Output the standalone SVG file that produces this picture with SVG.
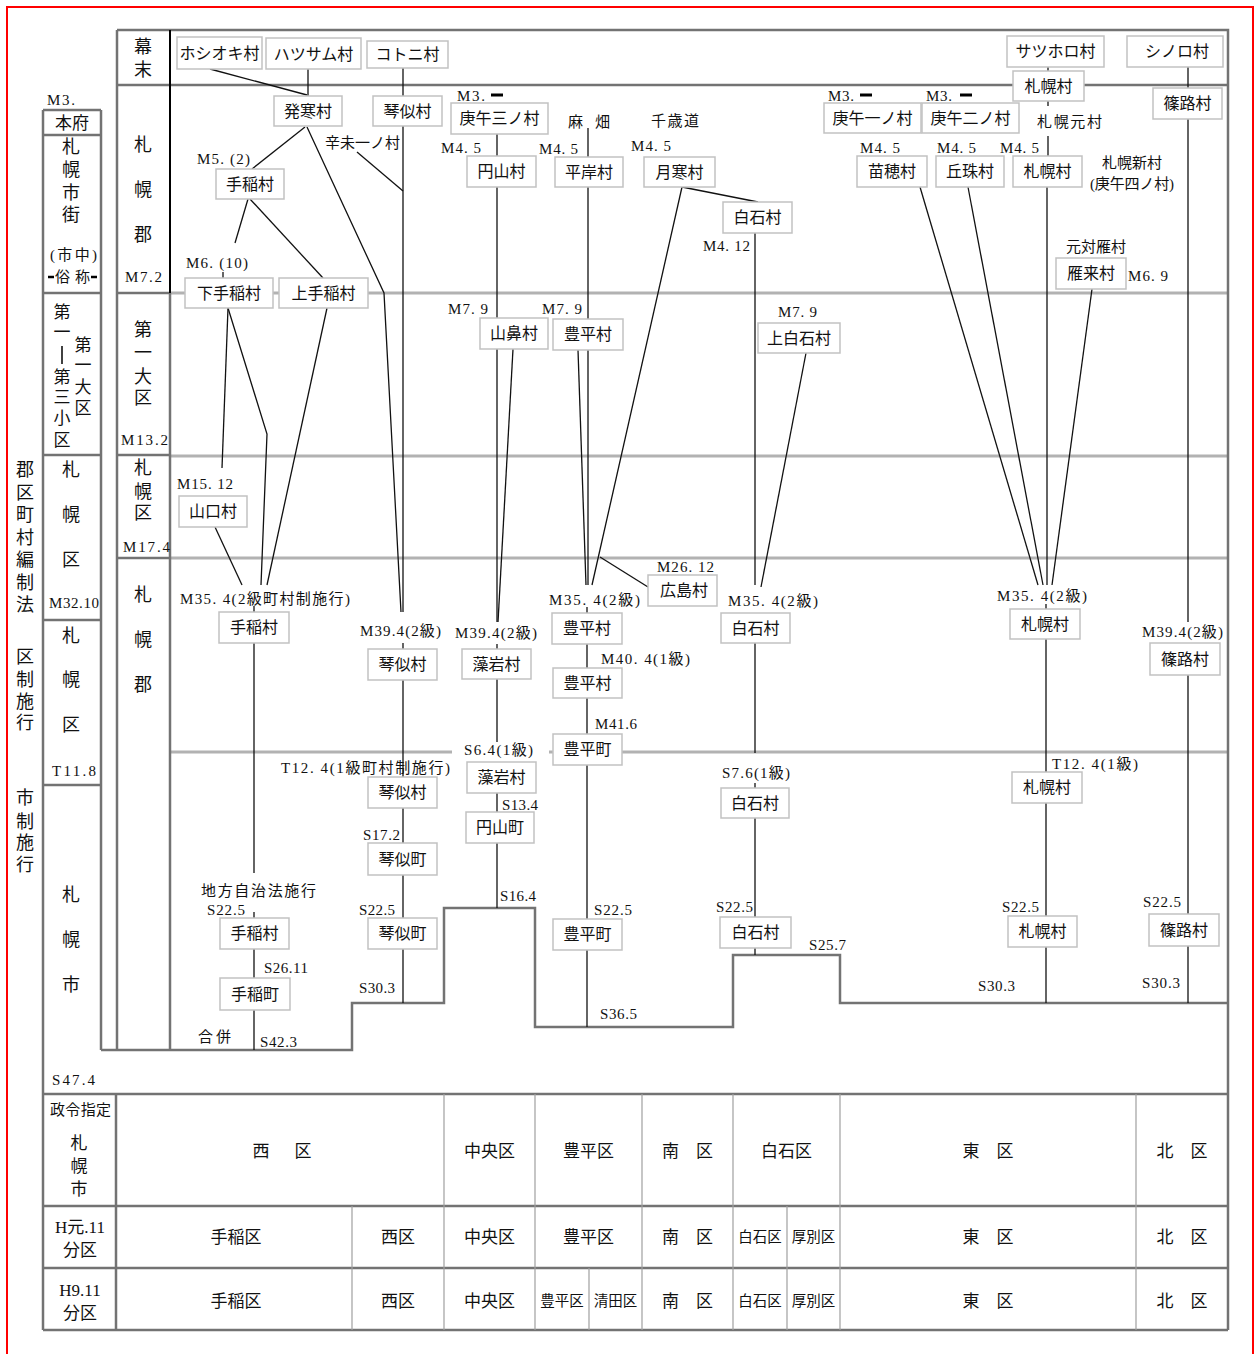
<svg xmlns="http://www.w3.org/2000/svg" width="1256" height="1354" viewBox="0 0 1256 1354">
<style>
text{font-family:"Liberation Serif","Noto Sans CJK JP",serif;fill:#111}
.f{stroke:#737373;stroke-width:2.5;fill:none}
.g{stroke:#b2b2b2;stroke-width:3;fill:none}
.t{stroke:#a0a0a0;stroke-width:1.2;fill:none}
.node rect{fill:#fff;stroke:#c2c2c2;stroke-width:1.5}
.node text{font-size:16px;text-anchor:middle;dominant-baseline:central}
#connectors line,#connectors polyline{stroke:#111;stroke-width:1.3;fill:none}
.l{font-size:15px;dominant-baseline:central}
.v{font-size:18px;text-anchor:middle;dominant-baseline:central}
.vs{font-size:17px;text-anchor:middle;dominant-baseline:central}
.c{font-size:17px;text-anchor:middle;dominant-baseline:central}
.cs{font-size:14.5px;text-anchor:middle;dominant-baseline:central}
.d{stroke:#000;stroke-width:3}
</style>
<rect width="1256" height="1354" fill="#fff"/>
<path d="M7 1354 V7 H1253 V1354" stroke="#f00" stroke-width="2" fill="none"/>

<g id="grid">
<path class="g" d="M170 293 H1228 M170 456 H1228 M170 558 H1228 M170 752 H452 M549 752 H1228"/>
<path class="f" d="M117 30 H1228 V1330 M117 85 H1228 M117 30 V1050 M170 293 V1050 M117 293 H170 M117 455 H170 M117 558 H170"/>
<line x1="170" y1="30" x2="170" y2="293" stroke="#000" stroke-width="2"/>
<path class="f" d="M43 110 V1330 M101 110 V1050 M43 110 H101 M43 135 H101 M43 293 H101 M43 455 H101 M43 620 H101 M43 785 H101"/>
<polyline class="f" points="101,1050 352,1050 352,1003 444,1003 444,908 535,908 535,1027 733,1027 733,955 840,955 840,1003 1228,1003"/>
<path class="f" d="M43 1094 H1228 M43 1206 H1228 M43 1268 H1228 M43 1330 H1228 M116 1094 V1330"/>
<path class="t" d="M444 1094 V1330 M535 1094 V1330 M642 1094 V1330 M733 1094 V1330 M840 1094 V1330 M1136 1094 V1330 M352 1206 V1330 M787 1206 V1330 M589 1268 V1330"/>
</g>

<g id="connectors">
<line x1="210" y1="69" x2="307" y2="95"/>
<line x1="308" y1="69" x2="308" y2="96"/>
<line x1="403" y1="68" x2="403" y2="96"/>
<line x1="305" y1="127" x2="252" y2="169"/>
<polyline points="307,127 384,293 401,612"/>
<line x1="357" y1="152" x2="403" y2="191"/>
<line x1="403" y1="126" x2="403" y2="612"/>
<line x1="248" y1="199" x2="235" y2="243"/>
<line x1="223" y1="272" x2="223" y2="278"/>
<line x1="250" y1="199" x2="323" y2="278"/>
<line x1="228" y1="308" x2="222" y2="468"/>
<polyline points="228,308 267,434 261,585"/>
<line x1="327" y1="308" x2="267" y2="585"/>
<line x1="215" y1="527" x2="242" y2="585"/>
<line x1="254" y1="606" x2="254" y2="612"/>
<line x1="254" y1="643" x2="254" y2="873"/>
<line x1="254" y1="912" x2="254" y2="918"/>
<line x1="254" y1="949" x2="254" y2="978"/>
<line x1="254" y1="1010" x2="254" y2="1050"/>
<line x1="403" y1="643" x2="403" y2="649"/>
<line x1="403" y1="680" x2="403" y2="777"/>
<line x1="403" y1="808" x2="403" y2="843"/>
<line x1="403" y1="875" x2="403" y2="918"/>
<line x1="403" y1="949" x2="403" y2="1003"/>
<line x1="497" y1="134" x2="497" y2="156"/>
<line x1="497" y1="187" x2="497" y2="622"/>
<line x1="513" y1="349" x2="498" y2="622"/>
<line x1="497" y1="644" x2="497" y2="649"/>
<line x1="497" y1="679" x2="497" y2="742"/>
<line x1="497" y1="793" x2="497" y2="812"/>
<line x1="497" y1="843" x2="497" y2="908"/>
<line x1="588" y1="128" x2="588" y2="157"/>
<line x1="588" y1="187" x2="588" y2="585"/>
<line x1="578" y1="350" x2="586" y2="585"/>
<line x1="682" y1="187" x2="592" y2="585"/>
<line x1="600" y1="557" x2="648" y2="587"/>
<line x1="587" y1="607" x2="587" y2="613"/>
<line x1="587" y1="644" x2="587" y2="668"/>
<line x1="587" y1="698" x2="587" y2="734"/>
<line x1="587" y1="765" x2="587" y2="919"/>
<line x1="587" y1="950" x2="587" y2="1027"/>
<line x1="682" y1="187" x2="758" y2="202"/>
<line x1="755" y1="233" x2="755" y2="585"/>
<line x1="806" y1="353" x2="761" y2="587"/>
<line x1="755" y1="643" x2="755" y2="753"/>
<line x1="755" y1="783" x2="755" y2="788"/>
<line x1="755" y1="818" x2="755" y2="917"/>
<line x1="755" y1="948" x2="755" y2="955"/>
<line x1="1048" y1="67" x2="1048" y2="71"/>
<line x1="1048" y1="101" x2="1048" y2="106"/>
<line x1="1048" y1="136" x2="1048" y2="156"/>
<line x1="1047" y1="187" x2="1047" y2="585"/>
<line x1="920" y1="187" x2="1038" y2="585"/>
<line x1="968" y1="187" x2="1043" y2="585"/>
<line x1="1092" y1="289" x2="1052" y2="585"/>
<line x1="1046" y1="604" x2="1046" y2="609"/>
<line x1="1046" y1="639" x2="1046" y2="772"/>
<line x1="1046" y1="803" x2="1046" y2="916"/>
<line x1="1046" y1="947" x2="1046" y2="1003"/>
<line x1="1188" y1="67" x2="1188" y2="88"/>
<line x1="1188" y1="119" x2="1188" y2="622"/>
<line x1="1188" y1="675" x2="1188" y2="914"/>
<line x1="1188" y1="946" x2="1188" y2="1003"/>
</g>

<g id="n-hoshioki" class="node"><rect x="177" y="37" width="85" height="32"/><text x="219.5" y="53">ホシオキ村</text></g>
<g id="n-hatsusamu" class="node"><rect x="266" y="38" width="95" height="31"/><text x="313.5" y="54">ハツサム村</text></g>
<g id="n-kotoni" class="node"><rect x="367" y="41" width="81" height="27"/><text x="407.5" y="54.5">コトニ村</text></g>
<g id="n-hassamu" class="node"><rect x="274" y="96" width="68" height="30"/><text x="308" y="111">発寒村</text></g>
<g id="n-kotoni1" class="node"><rect x="373" y="96" width="69" height="30"/><text x="407.5" y="111">琴似村</text></g>
<g id="n-teine1" class="node"><rect x="216" y="169" width="68" height="30"/><text x="250" y="184">手稲村</text></g>
<g id="n-shimoteine" class="node"><rect x="185" y="278" width="88" height="30"/><text x="229" y="293">下手稲村</text></g>
<g id="n-kamiteine" class="node"><rect x="279" y="278" width="89" height="30"/><text x="323.5" y="293">上手稲村</text></g>
<g id="n-yamaguchi" class="node"><rect x="179" y="496" width="68" height="31"/><text x="213" y="511.5">山口村</text></g>
<g id="n-teine2" class="node"><rect x="219" y="612" width="70" height="31"/><text x="254" y="627.5">手稲村</text></g>
<g id="n-teine3" class="node"><rect x="220" y="918" width="69" height="31"/><text x="254.5" y="933.5">手稲村</text></g>
<g id="n-teinecho" class="node"><rect x="220" y="978" width="70" height="32"/><text x="255" y="994">手稲町</text></g>
<g id="n-kotoni2" class="node"><rect x="368" y="649" width="69" height="31"/><text x="402.5" y="664.5">琴似村</text></g>
<g id="n-kotoni3" class="node"><rect x="368" y="777" width="69" height="31"/><text x="402.5" y="792.5">琴似村</text></g>
<g id="n-kotonicho1" class="node"><rect x="368" y="843" width="69" height="32"/><text x="402.5" y="859">琴似町</text></g>
<g id="n-kotonicho2" class="node"><rect x="368" y="918" width="69" height="31"/><text x="402.5" y="933.5">琴似町</text></g>
<g id="n-kogo3" class="node"><rect x="451" y="103" width="97" height="31"/><text x="499.5" y="118.5">庚午三ノ村</text></g>
<g id="n-maruyama" class="node"><rect x="467" y="156" width="69" height="31"/><text x="501.5" y="171.5">円山村</text></g>
<g id="n-yamahana" class="node"><rect x="480" y="318" width="68" height="31"/><text x="514" y="333.5">山鼻村</text></g>
<g id="n-moiwa1" class="node"><rect x="462" y="649" width="69" height="30"/><text x="496.5" y="664">藻岩村</text></g>
<g id="n-moiwa2" class="node"><rect x="467" y="762" width="69" height="31"/><text x="501.5" y="777.5">藻岩村</text></g>
<g id="n-maruyamacho" class="node"><rect x="466" y="812" width="68" height="31"/><text x="500" y="827.5">円山町</text></g>
<g id="n-hiragishi" class="node"><rect x="555" y="157" width="68" height="30"/><text x="589" y="172">平岸村</text></g>
<g id="n-toyohira1" class="node"><rect x="553" y="319" width="70" height="31"/><text x="588" y="334.5">豊平村</text></g>
<g id="n-toyohira2" class="node"><rect x="552" y="613" width="70" height="31"/><text x="587" y="628.5">豊平村</text></g>
<g id="n-toyohira3" class="node"><rect x="553" y="668" width="69" height="30"/><text x="587.5" y="683">豊平村</text></g>
<g id="n-toyohiracho1" class="node"><rect x="553" y="734" width="69" height="31"/><text x="587.5" y="749.5">豊平町</text></g>
<g id="n-toyohiracho2" class="node"><rect x="553" y="919" width="69" height="31"/><text x="587.5" y="934.5">豊平町</text></g>
<g id="n-tsukisamu" class="node"><rect x="644" y="157" width="71" height="30"/><text x="679.5" y="172">月寒村</text></g>
<g id="n-shiroishi1" class="node"><rect x="723" y="202" width="69" height="31"/><text x="757.5" y="217.5">白石村</text></g>
<g id="n-kamishiroishi" class="node"><rect x="758" y="323" width="82" height="30"/><text x="799" y="338">上白石村</text></g>
<g id="n-hiroshima" class="node"><rect x="648" y="575" width="69" height="31"/><text x="684" y="590.5">広島村</text></g>
<g id="n-shiroishi2" class="node"><rect x="721" y="613" width="69" height="30"/><text x="755.5" y="628">白石村</text></g>
<g id="n-shiroishi3" class="node"><rect x="721" y="788" width="68" height="30"/><text x="755" y="803">白石村</text></g>
<g id="n-shiroishi4" class="node"><rect x="720" y="917" width="71" height="31"/><text x="755.5" y="932.5">白石村</text></g>
<g id="n-satsuhoro" class="node"><rect x="1007" y="36" width="97" height="31"/><text x="1055.5" y="51.5">サツホロ村</text></g>
<g id="n-shinoro" class="node"><rect x="1127" y="36" width="96" height="31"/><text x="1177" y="51.5">シノロ村</text></g>
<g id="n-sapporo1" class="node"><rect x="1013" y="71" width="71" height="30"/><text x="1048.5" y="86">札幌村</text></g>
<g id="n-shinoro1" class="node"><rect x="1153" y="88" width="69" height="31"/><text x="1187.5" y="103.5">篠路村</text></g>
<g id="n-kogo1" class="node"><rect x="824" y="103" width="97" height="30"/><text x="872.5" y="118">庚午一ノ村</text></g>
<g id="n-kogo2" class="node"><rect x="922" y="103" width="97" height="30"/><text x="970.5" y="118">庚午二ノ村</text></g>
<g id="n-naebo" class="node"><rect x="857" y="156" width="70" height="31"/><text x="892" y="171.5">苗穂村</text></g>
<g id="n-okadama" class="node"><rect x="936" y="156" width="68" height="31"/><text x="970" y="171.5">丘珠村</text></g>
<g id="n-sapporo2" class="node"><rect x="1013" y="156" width="69" height="31"/><text x="1047.5" y="171.5">札幌村</text></g>
<g id="n-kariki" class="node"><rect x="1056" y="258" width="70" height="31"/><text x="1091" y="273.5">雁来村</text></g>
<g id="n-sapporo3" class="node"><rect x="1010" y="609" width="70" height="30"/><text x="1045" y="624">札幌村</text></g>
<g id="n-sapporo4" class="node"><rect x="1012" y="772" width="70" height="31"/><text x="1047" y="787.5">札幌村</text></g>
<g id="n-sapporo5" class="node"><rect x="1008" y="916" width="69" height="31"/><text x="1042.5" y="931.5">札幌村</text></g>
<g id="n-shinoro2" class="node"><rect x="1150" y="643" width="70" height="32"/><text x="1185" y="659">篠路村</text></g>
<g id="n-shinoro3" class="node"><rect x="1149" y="914" width="70" height="32"/><text x="1184" y="930">篠路村</text></g>

<g id="labels">
<text class="l" x="47" y="100" textLength="28">M3.</text>
<text class="l" x="197" y="159" textLength="53">M5. (2)</text>
<text class="l" x="186" y="263" textLength="62">M6. (10)</text>
<text class="l" x="325" y="143" textLength="75">辛未一ノ村</text>
<text class="l" x="177" y="484" textLength="56">M15. 12</text>
<text class="l" x="180" y="599" textLength="170">M35. 4(2級町村制施行)</text>
<text class="l" x="360" y="631" textLength="81">M39.4(2級)</text>
<text class="l" x="281" y="768" textLength="169">T12. 4(1級町村制施行)</text>
<text class="l" x="363" y="835" textLength="37">S17.2</text>
<text class="l" x="201" y="891" textLength="115">地方自治法施行</text>
<text class="l" x="207" y="910" textLength="38">S22.5</text>
<text class="l" x="359" y="910" textLength="36">S22.5</text>
<text class="l" x="264" y="968" textLength="44">S26.11</text>
<text class="l" x="359" y="988" textLength="36">S30.3</text>
<text class="l" x="198" y="1037" textLength="33">合併</text>
<text class="l" x="260" y="1042" textLength="37">S42.3</text>
<text class="l" x="52" y="1080" textLength="43">S47.4</text>

<text class="l" x="457" y="96" textLength="28">M3.</text>
<line class="d" x1="491" y1="95" x2="503" y2="95"/>
<text class="l" x="441" y="148" textLength="40">M4. 5</text>
<text class="l" x="568" y="122" textLength="42">麻　畑</text>
<text class="l" x="539" y="149" textLength="39">M4. 5</text>
<text class="l" x="651" y="121" textLength="48">千歳道</text>
<text class="l" x="631" y="146" textLength="40">M4. 5</text>
<text class="l" x="703" y="246" textLength="47">M4. 12</text>
<text class="l" x="448" y="309" textLength="40">M7. 9</text>
<text class="l" x="542" y="309" textLength="40">M7. 9</text>
<text class="l" x="778" y="312" textLength="39">M7. 9</text>
<text class="l" x="657" y="567" textLength="57">M26. 12</text>
<text class="l" x="549" y="600" textLength="91">M35. 4(2級)</text>
<text class="l" x="728" y="601" textLength="90">M35. 4(2級)</text>
<text class="l" x="455" y="633" textLength="82">M39.4(2級)</text>
<text class="l" x="601" y="659" textLength="89">M40. 4(1級)</text>
<text class="l" x="595" y="724" textLength="42">M41.6</text>
<text class="l" x="464" y="750" textLength="69">S6.4(1級)</text>
<text class="l" x="722" y="773" textLength="68">S7.6(1級)</text>
<text class="l" x="502" y="805" textLength="36">S13.4</text>
<text class="l" x="500" y="896" textLength="36">S16.4</text>
<text class="l" x="594" y="910" textLength="38">S22.5</text>
<text class="l" x="600" y="1014" textLength="37">S36.5</text>
<text class="l" x="716" y="907" textLength="37">S22.5</text>
<text class="l" x="809" y="945" textLength="37">S25.7</text>

<text class="l" x="828" y="96" textLength="26">M3.</text>
<line class="d" x1="860" y1="95" x2="872" y2="95"/>
<text class="l" x="926" y="96" textLength="26">M3.</text>
<line class="d" x1="960" y1="95" x2="972" y2="95"/>
<text class="l" x="1037" y="122" textLength="65">札幌元村</text>
<text class="l" x="860" y="148" textLength="40">M4. 5</text>
<text class="l" x="937" y="148" textLength="39">M4. 5</text>
<text class="l" x="1000" y="148" textLength="39">M4. 5</text>
<text class="l" x="1102" y="163" textLength="60">札幌新村</text>
<text class="l" x="1090" y="184" textLength="84">(庚午四ノ村)</text>
<text class="l" x="1066" y="247" textLength="60">元対雁村</text>
<text class="l" x="1128" y="276" textLength="40">M6. 9</text>
<text class="l" x="997" y="596" textLength="90">M35. 4(2級)</text>
<text class="l" x="1142" y="632" textLength="81">M39.4(2級)</text>
<text class="l" x="1052" y="764" textLength="86">T12. 4(1級)</text>
<text class="l" x="1002" y="907" textLength="37">S22.5</text>
<text class="l" x="978" y="986" textLength="37">S30.3</text>
<text class="l" x="1143" y="902" textLength="38">S22.5</text>
<text class="l" x="1142" y="983" textLength="38">S30.3</text>
</g>

<g id="side-labels">
<text class="v" x="25" y="470">郡</text><text class="v" x="25" y="493">区</text><text class="v" x="25" y="515">町</text><text class="v" x="25" y="538">村</text><text class="v" x="25" y="560">編</text><text class="v" x="25" y="583">制</text><text class="v" x="25" y="605">法</text>
<text class="v" x="25" y="657">区</text><text class="v" x="25" y="680">制</text><text class="v" x="25" y="702">施</text><text class="v" x="25" y="723">行</text>
<text class="v" x="25" y="798">市</text><text class="v" x="25" y="822">制</text><text class="v" x="25" y="843">施</text><text class="v" x="25" y="865">行</text>

<text class="c" x="72" y="123">本府</text>
<text class="v" x="71" y="147">札</text><text class="v" x="71" y="170">幌</text><text class="v" x="71" y="193">市</text><text class="v" x="71" y="215">街</text>
<text class="l" x="50" y="255" textLength="47">(市中)</text>
<line x1="48" y1="277" x2="54" y2="277" stroke="#000" stroke-width="2.5"/>
<text class="l" x="55" y="277" textLength="35">俗称</text>
<line x1="91" y1="277" x2="97" y2="277" stroke="#000" stroke-width="2.5"/>
<text class="vs" x="62" y="312">第</text><text class="vs" x="62" y="332">一</text>
<line x1="62" y1="346" x2="62" y2="364" stroke="#111" stroke-width="1.6"/>
<text class="vs" x="62" y="377">第</text><text class="vs" x="62" y="397">三</text><text class="vs" x="62" y="418">小</text><text class="vs" x="62" y="440">区</text>
<text class="vs" x="83" y="345">第</text><text class="vs" x="83" y="365">一</text><text class="vs" x="83" y="387">大</text><text class="vs" x="83" y="408">区</text>
<text class="v" x="71" y="470">札</text><text class="v" x="71" y="515">幌</text><text class="v" x="71" y="560">区</text>
<text class="l" x="49" y="603" font-size="14" textLength="50">M32.10</text>
<text class="v" x="71" y="636">札</text><text class="v" x="71" y="680">幌</text><text class="v" x="71" y="725">区</text>
<text class="l" x="52" y="771" textLength="44">T11.8</text>
<text class="v" x="71" y="895">札</text><text class="v" x="71" y="940">幌</text><text class="v" x="71" y="985">市</text>

<text class="v" x="143" y="47">幕</text><text class="v" x="143" y="70">末</text>
<text class="v" x="143" y="145">札</text><text class="v" x="143" y="190">幌</text><text class="v" x="143" y="235">郡</text>
<text class="l" x="125" y="277" textLength="37">M7.2</text>
<text class="v" x="143" y="330">第</text><text class="v" x="143" y="353">一</text><text class="v" x="143" y="377">大</text><text class="v" x="143" y="398">区</text>
<text class="l" x="121" y="440" textLength="47">M13.2</text>
<text class="v" x="143" y="468">札</text><text class="v" x="143" y="492">幌</text><text class="v" x="143" y="513">区</text>
<text class="l" x="123" y="547" textLength="47">M17.4</text>
<text class="v" x="143" y="595">札</text><text class="v" x="143" y="640">幌</text><text class="v" x="143" y="685">郡</text>
</g>

<g id="ward-table">
<text class="l" x="50" y="1110" font-size="14" textLength="61">政令指定</text>
<text class="c" x="79" y="1143">札</text><text class="c" x="79" y="1166">幌</text><text class="c" x="79" y="1189">市</text>
<text class="c" x="80" y="1227">H元.11</text><text class="c" x="80" y="1250">分区</text>
<text class="c" x="80" y="1290">H9.11</text><text class="c" x="80" y="1313">分区</text>

<text class="c" x="282" y="1151" textLength="59">西　区</text>
<text class="c" x="489.5" y="1151">中央区</text>
<text class="c" x="588.5" y="1151">豊平区</text>
<text class="c" x="687.5" y="1151">南　区</text>
<text class="c" x="786.5" y="1151">白石区</text>
<text class="c" x="988" y="1151">東　区</text>
<text class="c" x="1182" y="1151">北　区</text>

<text class="c" x="236" y="1237">手稲区</text>
<text class="c" x="398" y="1237">西区</text>
<text class="c" x="489.5" y="1237">中央区</text>
<text class="c" x="588.5" y="1237">豊平区</text>
<text class="c" x="687.5" y="1237">南　区</text>
<text class="cs" x="760" y="1237">白石区</text>
<text class="cs" x="813.5" y="1237">厚別区</text>
<text class="c" x="988" y="1237">東　区</text>
<text class="c" x="1182" y="1237">北　区</text>

<text class="c" x="236" y="1301">手稲区</text>
<text class="c" x="398" y="1301">西区</text>
<text class="c" x="489.5" y="1301">中央区</text>
<text class="cs" x="562" y="1301">豊平区</text>
<text class="cs" x="615.5" y="1301">清田区</text>
<text class="c" x="687.5" y="1301">南　区</text>
<text class="cs" x="760" y="1301">白石区</text>
<text class="cs" x="813.5" y="1301">厚別区</text>
<text class="c" x="988" y="1301">東　区</text>
<text class="c" x="1182" y="1301">北　区</text>
</g>
</svg>
